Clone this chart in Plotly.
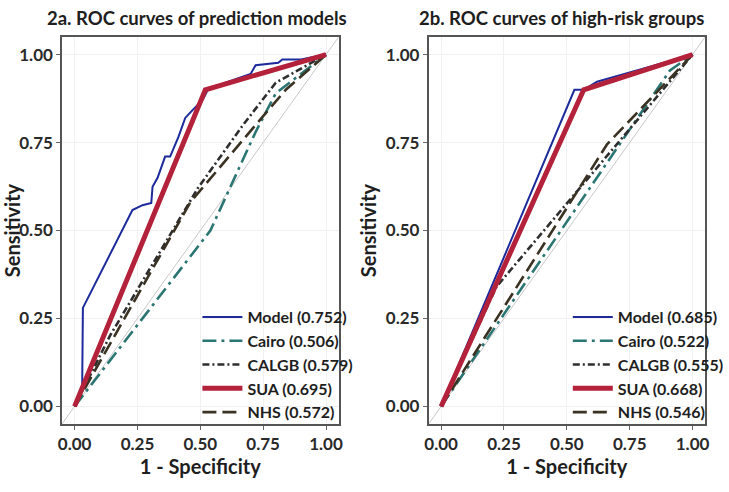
import plotly.graph_objects as go

# ---------------- data ----------------
# Panel 2a: ROC curves of prediction models
a_model_x = [0, 0.03, 0.033, 0.23, 0.27, 0.305, 0.31, 0.33, 0.36, 0.38, 0.413, 0.44, 0.47, 0.51, 0.53, 0.60, 0.70, 0.71, 0.72, 0.81, 0.826, 0.90, 1.0]
a_model_y = [0, 0.045, 0.28, 0.558, 0.572, 0.578, 0.624, 0.65, 0.71, 0.71, 0.766, 0.82, 0.843, 0.872, 0.90, 0.92, 0.945, 0.957, 0.97, 0.977, 0.986, 0.986, 1.0]
a_cairo_x = [0, 0.54, 0.72, 0.80, 1.0]
a_cairo_y = [0, 0.50, 0.78, 0.89, 1.0]
a_calgb_x = [0, 0.14, 0.49, 0.67, 0.80, 1.0]
a_calgb_y = [0, 0.20, 0.62, 0.80, 0.92, 1.0]
a_sua_x = [0, 0.52, 1.0]
a_sua_y = [0, 0.90, 1.0]
a_nhs_x = [0, 0.46, 0.72, 0.84, 1.0]
a_nhs_y = [0, 0.58, 0.80, 0.90, 1.0]
a_names = ["Model (0.752)", "Cairo (0.506)", "CALGB (0.579)", "SUA (0.695)", "NHS (0.572)"]

# Panel 2b: ROC curves of high-risk groups
b_model_x = [0, 0.53, 0.567, 0.62, 1.0]
b_model_y = [0, 0.90, 0.90, 0.923, 1.0]
b_cairo_x = [0, 0.91, 1.0]
b_cairo_y = [0, 0.955, 1.0]
b_calgb_x = [0, 0.22, 1.0]
b_calgb_y = [0, 0.34, 1.0]
b_sua_x = [0, 0.567, 1.0]
b_sua_y = [0, 0.90, 1.0]
b_nhs_x = [0, 0.66, 1.0]
b_nhs_y = [0, 0.745, 1.0]
b_names = ["Model (0.685)", "Cairo (0.522)", "CALGB (0.555)", "SUA (0.668)", "NHS (0.546)"]

diag = [-0.05, 1.05]
ticks = [0, 0.25, 0.5, 0.75, 1.0]
tick_text = ["0.00", "0.25", "0.50", "0.75", "1.00"]
titles = ["2a. ROC curves of prediction models", "2b. ROC curves of high-risk groups"]

# ---------------- styles ----------------
FONT = "Lato"
styles = [
    dict(color="#1c2a9c", width=2, dash="solid"),               # Model
    dict(color="#2b7672", width=2.6, dash="14px,5px,3px,5px"),  # Cairo
    dict(color="#2e2e2e", width=2.6, dash="7px,3px,2px,3px"),   # CALGB
    dict(color="#b3223a", width=5, dash="solid"),               # SUA
    dict(color="#3a3222", width=2.6, dash="14px,6px"),          # NHS
]

fig = go.Figure()

panels = [
    ("x", "y", "legend", [(a_model_x, a_model_y), (a_cairo_x, a_cairo_y), (a_calgb_x, a_calgb_y), (a_sua_x, a_sua_y), (a_nhs_x, a_nhs_y)], a_names),
    ("x2", "y2", "legend2", [(b_model_x, b_model_y), (b_cairo_x, b_cairo_y), (b_calgb_x, b_calgb_y), (b_sua_x, b_sua_y), (b_nhs_x, b_nhs_y)], b_names),
]

for xa, ya, lg, series, names in panels:
    fig.add_trace(go.Scatter(x=diag, y=diag, mode="lines", xaxis=xa, yaxis=ya,
                             line=dict(color="#c8c8c8", width=1), showlegend=False, hoverinfo="skip"))
    for i in [0, 1, 2, 4, 3]:
        sx, sy = series[i]
        fig.add_trace(go.Scatter(x=sx, y=sy, mode="lines", name=names[i], xaxis=xa, yaxis=ya,
                                 line=styles[i], legend=lg, legendrank=i + 1))

x_domains = [[60 / 729, 346 / 729], [439 / 729, 725 / 729]]
y_domain = [(492 - 424) / 492, (492 - 37) / 492]

axis_common = dict(
    range=[-0.05, 1.05], tickvals=ticks, ticktext=tick_text,
    showgrid=True, gridcolor="#f1f1f1", gridwidth=1,
    showline=True, linecolor="#555555", linewidth=1.5, mirror=True,
    ticks="outside", ticklen=4, tickcolor="#666666", tickwidth=1,
    tickfont=dict(family=FONT, size=17, color="#2a2a2a", weight=700),
    zeroline=False, fixedrange=True,
)
title_font = dict(family=FONT, size=20, color="#1e1e1e", weight=700)

fig.update_layout(
    width=729, height=492,
    margin=dict(l=0, r=0, t=0, b=0),
    paper_bgcolor="white", plot_bgcolor="white",
    xaxis=dict(domain=x_domains[0], anchor="y", **axis_common,
               title=dict(text="1 - Specificity", font=title_font, standoff=6)),
    yaxis=dict(domain=y_domain, anchor="x", **axis_common,
               title=dict(text="Sensitivity", font=title_font, standoff=4)),
    xaxis2=dict(domain=x_domains[1], anchor="y2", **axis_common,
                title=dict(text="1 - Specificity", font=title_font, standoff=6)),
    yaxis2=dict(domain=y_domain, anchor="x2", **axis_common,
                title=dict(text="Sensitivity", font=title_font, standoff=4)),
    legend=dict(x=200 / 729, xanchor="left", y=(492 - 300) / 492, yanchor="top",
                bgcolor="rgba(0,0,0,0)", itemwidth=40, tracegroupgap=0,
                font=dict(family=FONT, size=16, color="#1e1e1e", weight=700), traceorder="normal"),
    legend2=dict(x=583 / 729, xanchor="left", y=(492 - 300) / 492, yanchor="top",
                 bgcolor="rgba(0,0,0,0)", itemwidth=40, tracegroupgap=0,
                 font=dict(family=FONT, size=16, color="#1e1e1e", weight=700), traceorder="normal"),
    showlegend=True,
)

fig.add_annotation(text=titles[0], xref="paper", yref="paper", x=200 / 729, y=(492 - 18) / 492,
                   xanchor="center", yanchor="middle", showarrow=False,
                   font=dict(family=FONT, size=18.5, color="#1e1e1e", weight=700))
fig.add_annotation(text=titles[1], xref="paper", yref="paper", x=427 / 729, y=(492 - 18) / 492,
                   xanchor="left", yanchor="middle", showarrow=False,
                   font=dict(family=FONT, size=18.5, color="#1e1e1e", weight=700))

fig.write_html("out.html")
